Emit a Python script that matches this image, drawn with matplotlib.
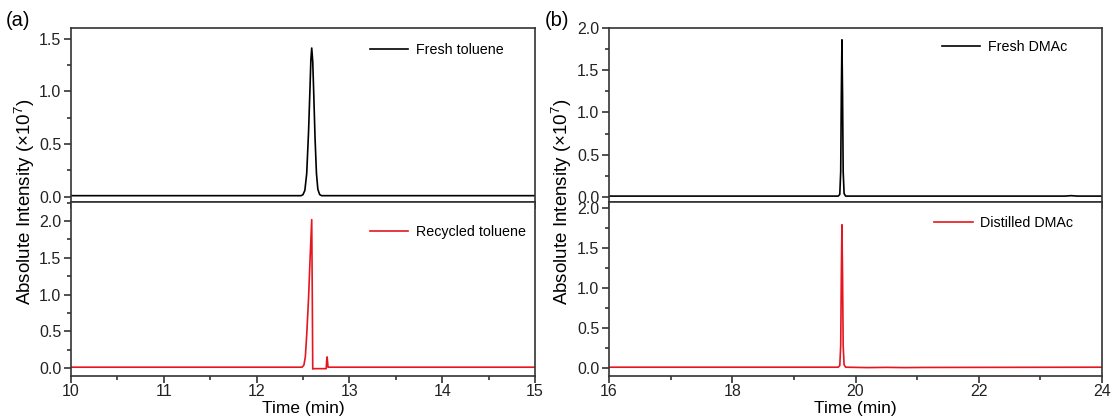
import matplotlib
matplotlib.use('Agg')
import matplotlib.pyplot as plt
from matplotlib.ticker import MultipleLocator

plt.rcParams['font.family'] = ['Liberation Sans', 'DejaVu Sans']
plt.rcParams['mathtext.fontset'] = 'custom'
plt.rcParams['mathtext.rm'] = 'Liberation Sans'

# chromatogram traces (time in min, intensity in 1e7)
freshTolT = [10.0, 12.48, 12.50, 12.52, 12.54, 12.56, 12.575, 12.585, 12.594, 12.605,
             12.615, 12.63, 12.645, 12.66, 12.68, 12.70, 15.0]
freshTolI = [0.01, 0.01, 0.02, 0.06, 0.22, 0.62, 1.02, 1.30, 1.41, 1.28,
             1.00, 0.55, 0.22, 0.07, 0.02, 0.01, 0.01]

recTolT = [10.0, 12.49, 12.51, 12.525, 12.54, 12.56, 12.575, 12.594, 12.600, 12.605,
           12.62, 12.75, 12.755, 12.76, 12.765, 12.77, 15.0]
recTolI = [0.01, 0.01, 0.04, 0.15, 0.45, 0.95, 1.45, 2.02, 1.00, -0.015,
           -0.01, -0.01, 0.10, 0.15, 0.08, 0.01, 0.01]

freshDmacT = [16.0, 19.72, 19.745, 19.76, 19.77, 19.78, 19.79, 19.80, 19.815, 19.84,
              23.4, 23.5, 23.6, 24.0]
freshDmacI = [0.01, 0.01, 0.03, 0.30, 1.20, 1.86, 1.20, 0.30, 0.04, 0.01,
              0.01, 0.015, 0.01, 0.01]

distDmacT = [16.0, 19.72, 19.745, 19.76, 19.77, 19.78, 19.79, 19.80, 19.815, 19.84,
             20.2, 20.5, 20.8, 21.1, 24.0]
distDmacI = [0.01, 0.01, 0.03, 0.28, 1.15, 1.79, 1.15, 0.28, 0.04, 0.01,
             0.005, 0.008, 0.005, 0.007, 0.01]

W, H = 1113, 418
fig = plt.figure(figsize=(W / 100, H / 100), dpi=100)


def box(x0, x1, ytop, ybot):
    return [x0 / W, 1 - ybot / H, (x1 - x0) / W, (ybot - ytop) / H]


def style(ax, xlim, ylim, xmaj, xmin, ymaj, ymin, showx):
    ax.set_xlim(*xlim)
    ax.set_ylim(*ylim)
    ax.xaxis.set_major_locator(MultipleLocator(xmaj))
    ax.xaxis.set_minor_locator(MultipleLocator(xmin))
    ax.yaxis.set_major_locator(MultipleLocator(ymaj))
    ax.yaxis.set_minor_locator(MultipleLocator(ymin))
    ax.tick_params(which='both', direction='out', width=1.1, labelsize=11.5, colors='#222222')
    ax.tick_params(which='major', length=5)
    ax.tick_params(which='minor', length=3)
    ax.tick_params(axis='x', labelbottom=showx, pad=0.5)
    ax.tick_params(axis='y', pad=2)
    for s in ax.spines.values():
        s.set_linewidth(1.2)
        s.set_color('#333333')


def legend(ax, x, y):
    ax.legend(loc='center left', bbox_to_anchor=(x, y), frameon=False, fontsize=10.3,
              borderpad=0, borderaxespad=0, handlelength=2.7, handletextpad=0.5)


red = '#e5161f'

# panel (a)
ax1 = fig.add_axes(box(71, 535, 28, 202))
ax1.plot(freshTolT, freshTolI, color='black', lw=1.2, label='Fresh toluene')
style(ax1, (10, 15), (-0.05, 1.6), 1, 0.5, 0.5, 0.25, False)
legend(ax1, 0.644, 0.875)

ax2 = fig.add_axes(box(71, 535, 202, 376))
ax2.plot(recTolT, recTolI, color=red, lw=1.2, label='Recycled toluene')
style(ax2, (10, 15), (-0.11, 2.26), 1, 0.5, 0.5, 0.25, True)
legend(ax2, 0.644, 0.83)
ax2.set_xlabel('Time (min)', fontsize=12.5, labelpad=1.5)

# panel (b)
ax3 = fig.add_axes(box(609, 1102, 28, 202))
ax3.plot(freshDmacT, freshDmacI, color='black', lw=1.2, label='Fresh DMAc')
style(ax3, (16, 24), (-0.06, 2.0), 2, 1, 0.5, 0.25, False)
legend(ax3, 0.675, 0.888)

ax4 = fig.add_axes(box(609, 1102, 202, 376))
ax4.plot(distDmacT, distDmacI, color=red, lw=1.2, label='Distilled DMAc')
style(ax4, (16, 24), (-0.1, 2.075), 2, 1, 0.5, 0.25, True)
legend(ax4, 0.659, 0.88)
ax4.set_xlabel('Time (min)', fontsize=12.5, labelpad=1.5)

ylab = 'Absolute Intensity ($\\times$10$^7$)'
fig.text(25 / W, 1 - 202 / H, ylab, rotation=90, ha='center', va='center', fontsize=13.5)
fig.text(562 / W, 1 - 202 / H, ylab, rotation=90, ha='center', va='center', fontsize=13.5)
fig.text(6 / W, 1 - 20 / H, '(a)', ha='left', va='center', fontsize=14.5)
fig.text(545 / W, 1 - 20 / H, '(b)', ha='left', va='center', fontsize=14.5)

fig.savefig('out.png', dpi=100)
